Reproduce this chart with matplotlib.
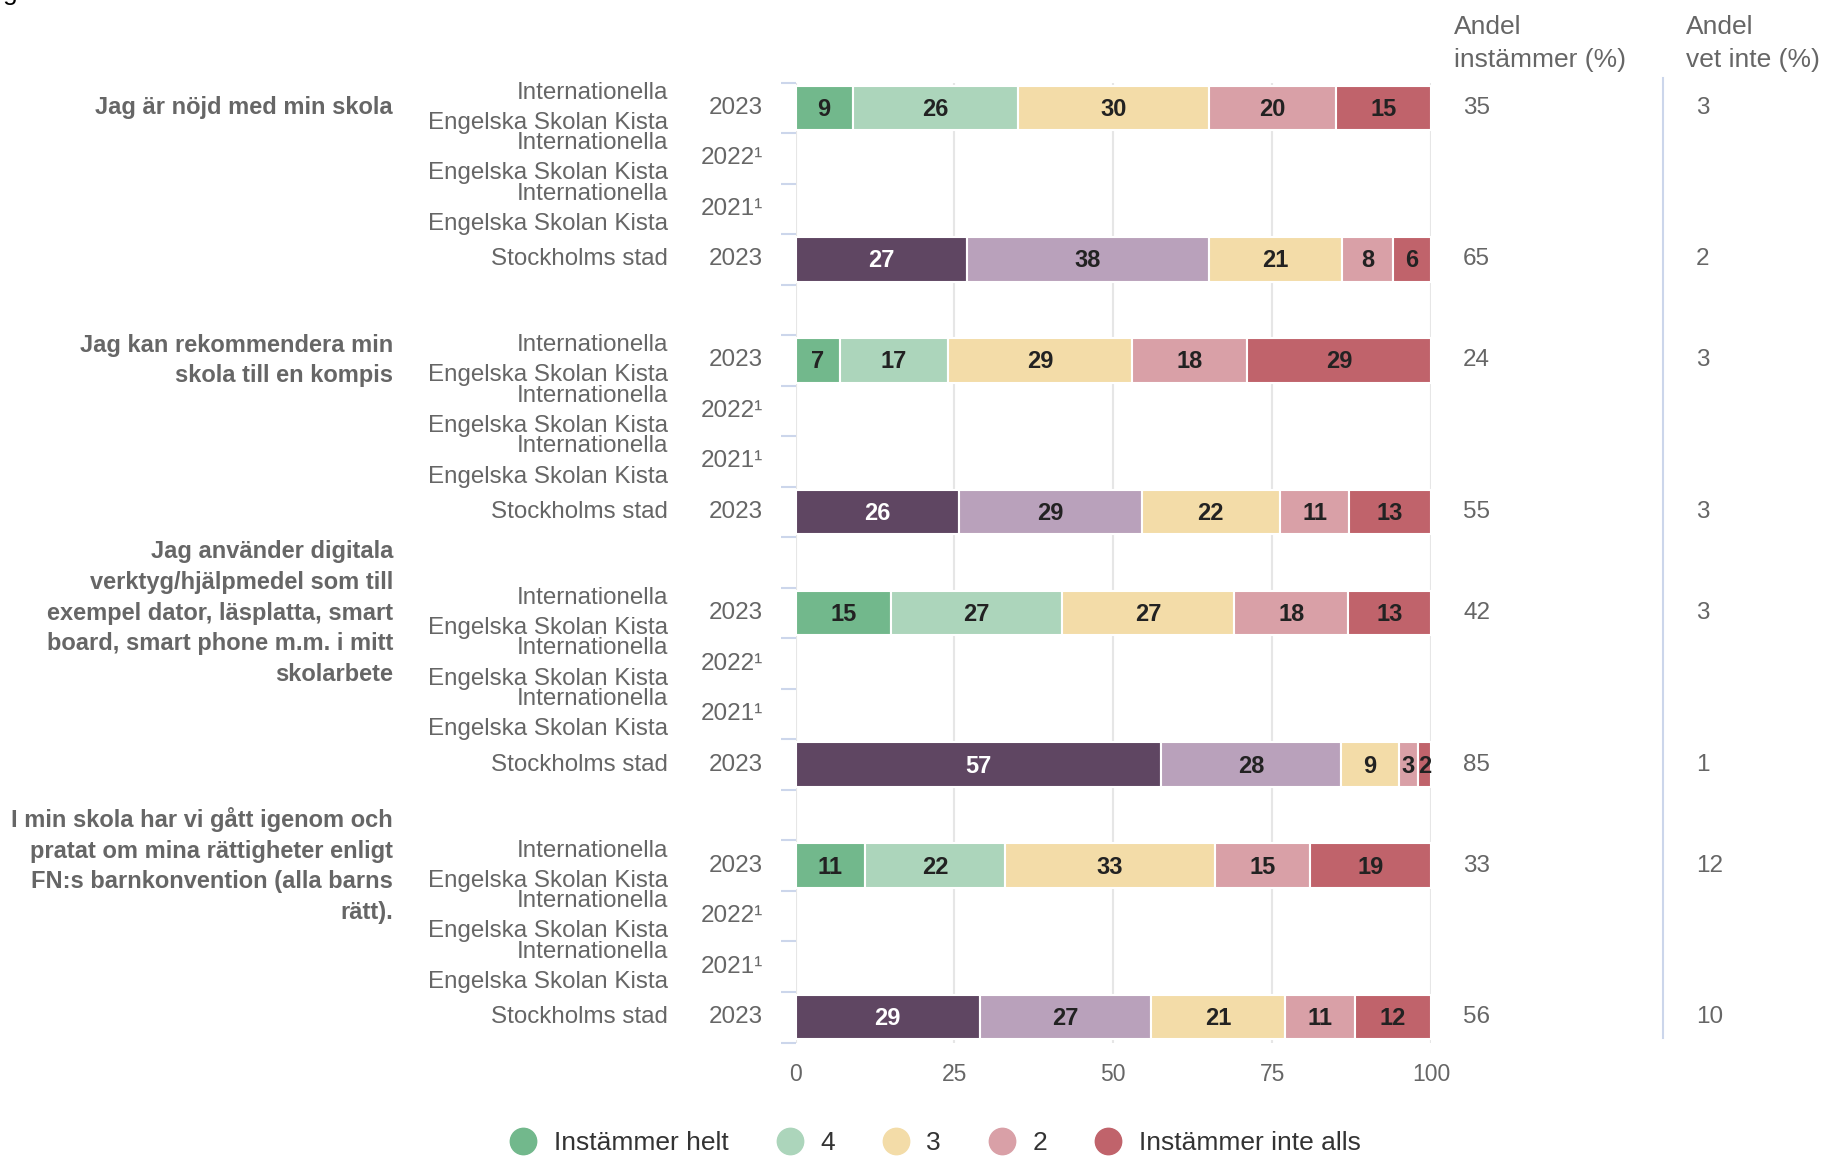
import numpy as np
import matplotlib.pyplot as plt
from matplotlib.lines import Line2D
from matplotlib.transforms import blended_transform_factory

plt.rcParams['font.family'] = ['Liberation Sans', 'DejaVu Sans']

# data
questions = [
    "Jag är nöjd med min skola",
    "Jag kan rekommendera min\nskola till en kompis",
    "Jag använder digitala\nverktyg/hjälpmedel som till\nexempel dator, läsplatta, smart\nboard, smart phone m.m. i mitt\nskolarbete",
    "I min skola har vi gått igenom och\npratat om mina rättigheter enligt\nFN:s barnkonvention (alla barns\nrätt).",
]
row_names = ["Internationella\nEngelska Skolan Kista", "Internationella\nEngelska Skolan Kista",
             "Internationella\nEngelska Skolan Kista", "Stockholms stad"]
row_years = ["2023", "2022¹", "2021¹", "2023"]
categories = ["Instämmer helt", "4", "3", "2", "Instämmer inte alls"]

esk_2023 = [[9, 26, 30, 20, 15],
            [7, 17, 29, 18, 29],
            [15, 27, 27, 18, 13],
            [11, 22, 33, 15, 19]]
sthlm_2023 = [[27, 38, 21, 8, 6],
              [26, 29, 22, 11, 13],
              [57, 28, 9, 3, 2],
              [29, 27, 21, 11, 12]]
andel_instammer_esk = [35, 24, 42, 33]
andel_instammer_sthlm = [65, 55, 85, 56]
vet_inte_esk = [3, 3, 3, 12]
vet_inte_sthlm = [2, 3, 1, 10]

esk_colors = ['#72b88c', '#acd5bb', '#f3dca8', '#d9a0a7', '#c0636b']
sthlm_colors = ['#5f4662', '#b9a1bb', '#f3dca8', '#d9a0a7', '#c0636b']
txt_gray = '#666666'

W, H = 1821, 1159
fig = plt.figure(figsize=(W / 100, H / 100), dpi=100)
ax = fig.add_axes([795.5 / W, 1 - 1042.5 / H, 635.5 / W, 960 / H])


def draw_bar(y, vals, colors, first_white):
    vals = np.array(vals, dtype=float)
    widths = vals / vals.sum() * 100  # percent stacking
    left = 0
    for i, (v, w) in enumerate(zip(vals, widths)):
        ax.barh(y, w, left=left, height=0.88, color=colors[i], edgecolor='white',
                linewidth=1.5, zorder=2)
        tc = 'white' if (first_white and i == 0) else '#222222'
        ax.text(left + w / 2, y + 0.03, f"{int(v)}", ha='center', va='center',
                fontsize=17, fontweight='bold', color=tc, zorder=3)
        left += w


figx = blended_transform_factory(fig.transFigure, ax.transData)

for g in range(4):
    y0 = 5 * g
    draw_bar(y0, esk_2023[g], esk_colors, False)
    draw_bar(y0 + 3, sthlm_2023[g], sthlm_colors, True)

    fig.text(393 / W, y0, questions[g], transform=figx, ha='right', va='center',
             fontsize=17, fontweight='bold', color=txt_gray, linespacing=1.42)
    for r in range(4):
        fig.text(668 / W, y0 + r, row_names[r], transform=figx, ha='right', va='center',
                 fontsize=17.4, color=txt_gray, linespacing=1.48)
        fig.text(763 / W, y0 + r, row_years[r], transform=figx, ha='right', va='center',
                 fontsize=17.5, color=txt_gray)
    fig.text(1463 / W, y0, str(andel_instammer_esk[g]), transform=figx, ha='left',
             va='center', fontsize=17.5, color=txt_gray)
    fig.text(1463 / W, y0 + 3, str(andel_instammer_sthlm[g]), transform=figx, ha='left',
             va='center', fontsize=17.5, color=txt_gray)
    fig.text(1696 / W, y0, str(vet_inte_esk[g]), transform=figx, ha='left',
             va='center', fontsize=17.5, color=txt_gray)
    fig.text(1696 / W, y0 + 3, str(vet_inte_sthlm[g]), transform=figx, ha='left',
             va='center', fontsize=17.5, color=txt_gray)

# column headers
fig.text(1454 / W, 1 - 43.5 / H, "Andel\ninstämmer (%)", ha='left', va='center',
         fontsize=19, color=txt_gray, linespacing=1.49)
fig.text(1686 / W, 1 - 43.5 / H, "Andel\nvet inte (%)", ha='left', va='center',
         fontsize=19, color=txt_gray, linespacing=1.49)
fig.add_artist(Line2D([1663 / W] * 2, [1 - 78 / H, 1 - 1038 / H], color='#ccd6eb', lw=1.5))

# cropped title remnant
fig.text(3 / W, 1.0, "g", ha='left', va='baseline', fontsize=19, color='black')

ax.set_xlim(0, 100)
ax.set_ylim(18.5, -0.5)
ax.set_xticks([0, 25, 50, 75, 100])
ax.set_yticks(np.arange(-0.5, 19, 1))
ax.set_yticklabels([])
ax.tick_params(axis='x', length=0, pad=15, labelsize=16.5, labelcolor=txt_gray)
ax.tick_params(axis='y', length=11, width=1.5, color='#ccd6eb')
ax.grid(axis='x', color='#e6e6e6', linewidth=1.5, zorder=0)
ax.set_axisbelow(True)
for s in ax.spines.values():
    s.set_visible(False)

handles = [Line2D([], [], marker='o', linestyle='none', markersize=19,
                  markerfacecolor=c, markeredgecolor=c) for c in esk_colors]
fig.legend(handles, categories, loc='center', bbox_to_anchor=(934 / W, 1 - 1143 / H),
           ncol=5, frameon=False, fontsize=19, handletextpad=0.55, columnspacing=1.72,
           handlelength=1.2, labelcolor='#333333')

fig.savefig('out.png', dpi=100)
